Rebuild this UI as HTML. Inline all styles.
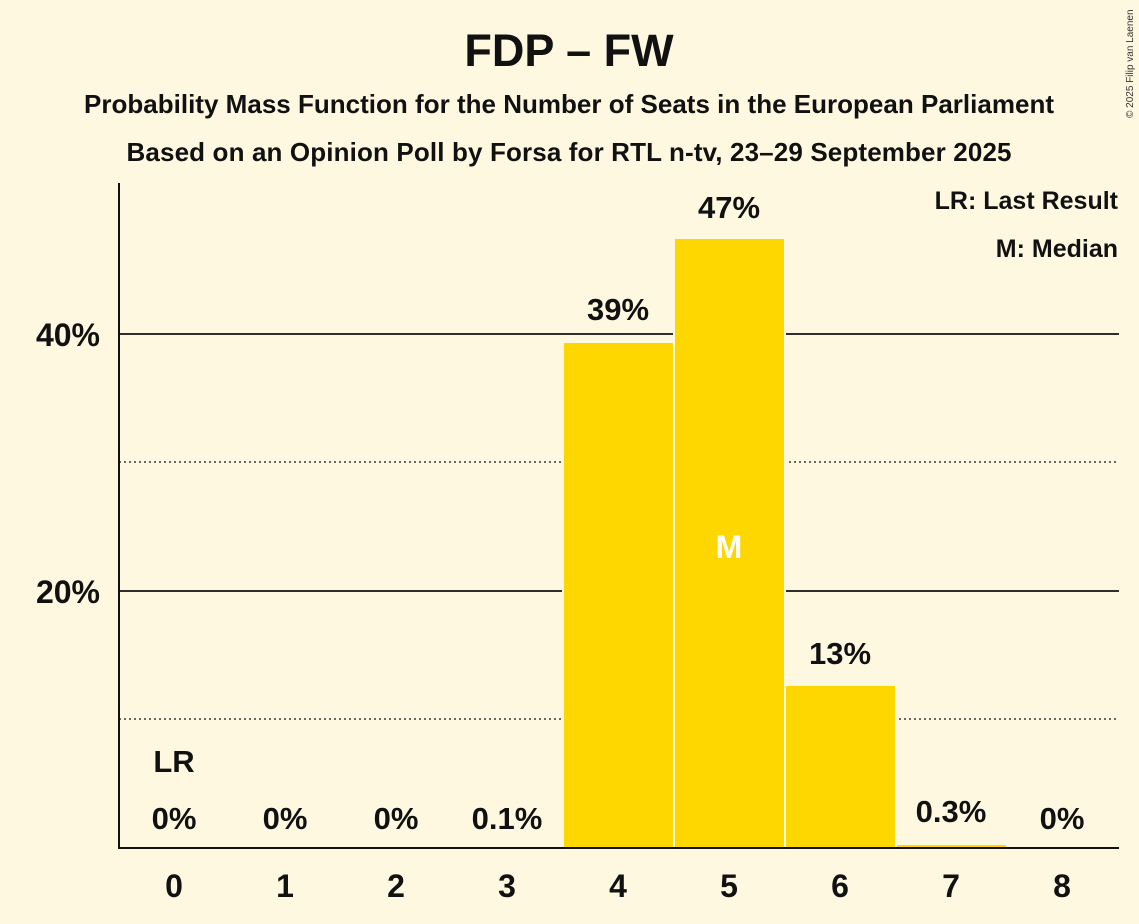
<!DOCTYPE html>
<html><head><meta charset="utf-8"><style>
html,body{margin:0;padding:0;background:#FFF8E1;}
svg{display:block;font-family:"Liberation Sans",sans-serif;}
</style></head><body>
<svg width="1139" height="924" viewBox="0 0 1139 924">
<rect width="1139" height="924" fill="#FFF8E1"/>
<text x="569" y="66" font-size="45" font-weight="bold" text-anchor="middle" fill="#111">FDP – FW</text>
<text x="569" y="113" font-size="26" font-weight="bold" text-anchor="middle" fill="#111" textLength="970">Probability Mass Function for the Number of Seats in the European Parliament</text>
<text x="569" y="161" font-size="26" font-weight="bold" text-anchor="middle" fill="#111" textLength="885">Based on an Opinion Poll by Forsa for RTL n-tv, 23–29 September 2025</text>
<text x="1133" y="118" font-size="10" fill="#333" transform="rotate(-90 1133 118)">© 2025 Filip van Laenen</text>
<g stroke="#111" stroke-width="1.3" stroke-dasharray="2,3">
<line x1="119" y1="719" x2="1119" y2="719"/>
<line x1="119" y1="462" x2="1119" y2="462"/>
</g>
<g stroke="#111" stroke-width="1.8">
<line x1="119" y1="591" x2="1119" y2="591"/>
<line x1="119" y1="334" x2="1119" y2="334"/>
</g>
<g fill="#FFD700" stroke="#FFF8E1" stroke-width="2">
<rect x="563" y="342" width="111" height="506"/>
<rect x="674" y="238" width="111" height="610"/>
<rect x="785" y="685" width="111" height="163"/>
<rect x="896" y="844" width="111" height="4"/>
<rect x="452" y="846.5" width="111" height="1.5"/>
</g>
<line x1="119" y1="183" x2="119" y2="849" stroke="#111" stroke-width="2"/>
<line x1="118" y1="848" x2="1119" y2="848" stroke="#111" stroke-width="2"/>
<g font-size="32" font-weight="bold" fill="#111" text-anchor="end">
<text x="100" y="346">40%</text>
<text x="100" y="603">20%</text>
</g>
<g font-size="32" font-weight="bold" fill="#111" text-anchor="middle">
<text x="174" y="897">0</text><text x="285" y="897">1</text><text x="396" y="897">2</text>
<text x="507" y="897">3</text><text x="618" y="897">4</text><text x="729" y="897">5</text>
<text x="840" y="897">6</text><text x="951" y="897">7</text><text x="1062" y="897">8</text>
</g>
<g font-size="31" font-weight="bold" fill="#111" text-anchor="middle">
<text x="174" y="829">0%</text><text x="285" y="829">0%</text><text x="396" y="829">0%</text>
<text x="507" y="829">0.1%</text><text x="618" y="320">39%</text><text x="729" y="218">47%</text>
<text x="840" y="664">13%</text><text x="951" y="822">0.3%</text><text x="1062" y="829">0%</text>
<text x="174" y="772">LR</text>
</g>
<text x="729" y="558" font-size="32" font-weight="bold" fill="#fff" text-anchor="middle">M</text>
<g font-size="25" font-weight="bold" fill="#111" text-anchor="end">
<text x="1118" y="209">LR: Last Result</text>
<text x="1118" y="257">M: Median</text>
</g>
</svg>
</body></html>
